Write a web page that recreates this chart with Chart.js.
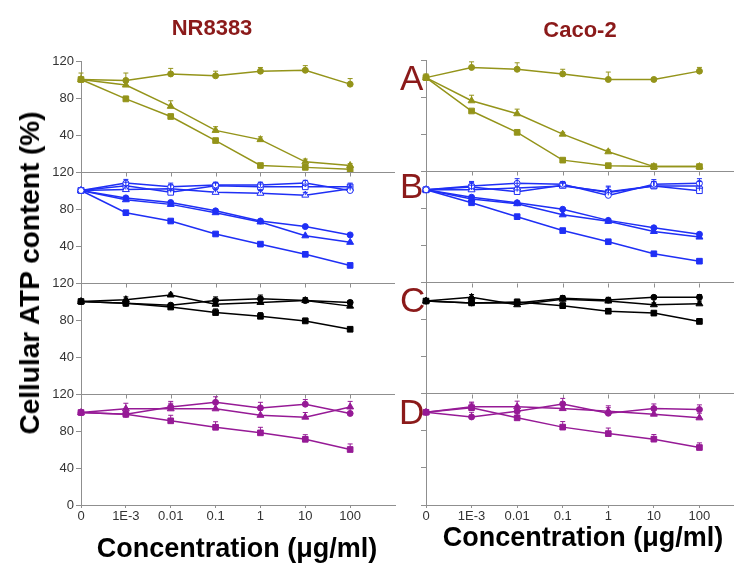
<!DOCTYPE html>
<html>
<head>
<meta charset="utf-8">
<script src="https://cdn.jsdelivr.net/npm/chart.js@4.4.0/dist/chart.umd.min.js"></script>
<style>
html, body { margin: 0; padding: 0; overflow: hidden; background: #fff; }
body { width: 734px; height: 564px; position: relative; font-family: "Liberation Sans", Arial, sans-serif; }
canvas { position: absolute; top: 0; }
#cL { left: 0; }
#cR { left: 400px; }
.t { position: absolute; font-weight: bold; white-space: nowrap; }
.ttl { color: #8b1a1a; font-size: 22px; line-height: 22px; transform: translateX(-50%); }
.lt { position: absolute; color: #8b1a1a; font-size: 35px; line-height: 35px; }
.xt { font-size: 27px; line-height: 27px; color: #000; transform: translateX(-50%); }
.yt { font-size: 28px; line-height: 28px; color: #000; transform: translate(-50%, -50%) rotate(-90deg); }
</style>
</head>
<body>
<canvas id="cL" width="400" height="564"></canvas>
<canvas id="cR" width="350" height="564"></canvas>

<div class="t ttl" style="left:212px; top:17px;">NR8383</div>
<div class="t ttl" style="left:580px; top:19px;">Caco-2</div>
<div class="lt" style="left:400px; top:60px;">A</div>
<div class="lt" style="left:400px; top:168px;">B</div>
<div class="lt" style="left:400px; top:282px;">C</div>
<div class="lt" style="left:399px; top:394px;">D</div>
<div class="t yt" style="left:30px; top:273px;">Cellular ATP content (%)</div>
<div class="t xt" style="left:237px; top:535px;">Concentration (μg/ml)</div>
<div class="t xt" style="left:583px; top:524px;">Concentration (μg/ml)</div>

<script>
// x categories and y ticks
const concLabels = ['0', '1E-3', '0.01', '0.1', '1', '10', '100'];
const yTickValues = [0, 40, 80, 120];

// NR8383 - panel A (olive)
const nrA_circ = [100, 99, 106, 104, 109, 110, 95];
const nrA_tri  = [100, 94, 71, 45, 35, 11, 7];
const nrA_sq   = [100, 79, 60, 34, 7, 5, 3];
const nrA_circErr = [7, 8, 6, 5, 4, 5, 6];
const nrA_triErr  = [0, 3, 6, 4, 3, 3, 2];
const nrA_sqErr   = [0, 3, 2, 2, 1, 1, 1];
// NR8383 - panel B (blue, open and filled)
const nrB_oCirc = [100, 108, 104, 106, 106, 108, 100];
const nrB_oTri  = [100, 101, 102, 98, 97, 95, 102];
const nrB_oSq   = [100, 105, 98, 105, 104, 104, 104];
const nrB_circ  = [100, 92, 87, 78, 67, 61, 52];
const nrB_tri   = [100, 90, 85, 76, 66, 51, 44];
const nrB_sq    = [100, 76, 67, 53, 42, 31, 19];
const nrB_openErr = [0, 4, 4, 3, 3, 3, 4];
// NR8383 - panel C (black)
const nrC_tri  = [100, 102, 107, 97, 99, 101, 95];
const nrC_circ = [100, 98, 96, 101, 103, 101, 99];
const nrC_sq   = [100, 98, 94, 88, 84, 79, 70];
const nrC_err  = [0, 3, 2, 4, 4, 3, 2];
// NR8383 - panel D (purple)
const nrD_circ = [100, 98, 106, 111, 105, 109, 99];
const nrD_tri  = [100, 104, 104, 104, 97, 95, 106];
const nrD_sq   = [100, 98, 91, 84, 78, 71, 60];
const nrD_err  = [0, 6, 6, 6, 6, 5, 6];

// Caco-2 - panel A
const caA_circ = [101, 112, 110, 105, 99, 99, 108];
const caA_tri  = [101, 76, 62, 40, 21, 5, 5];
const caA_sq   = [101, 65, 42, 12, 6, 5, 5];
const caA_circErr = [4, 6, 7, 5, 8, 0, 4];
const caA_triErr  = [0, 6, 5, 2, 2, 1, 1];
// Caco-2 - panel B
const caB_oCirc = [100, 104, 107, 106, 94, 106, 107];
const caB_oTri  = [100, 100, 102, 104, 98, 104, 104];
const caB_oSq   = [100, 103, 98, 105, 97, 104, 99];
const caB_circ  = [100, 92, 86, 79, 67, 59, 52];
const caB_tri   = [100, 90, 85, 73, 66, 55, 49];
const caB_sq    = [100, 86, 71, 56, 44, 31, 23];
const caB_openErr = [0, 5, 5, 3, 6, 5, 5];
// Caco-2 - panel C
const caC_tri  = [100, 104, 96, 102, 100, 96, 97];
const caC_circ = [100, 98, 98, 103, 101, 104, 104];
const caC_sq   = [100, 98, 99, 95, 89, 87, 78];
const caC_err  = [0, 3, 3, 3, 3, 2, 3];
// Caco-2 - panel D
const caD_circ = [100, 95, 101, 109, 99, 104, 103];
const caD_tri  = [100, 106, 106, 104, 101, 98, 94];
const caD_sq   = [100, 105, 94, 84, 77, 71, 62];
const caD_err  = [0, 5, 6, 6, 6, 5, 5];

const OLIVE = '#94941a';
const BLUE = '#1f2ff5';
const BLACK = '#000000';
const PURPLE = '#961a96';
const AXIS = '#8f8f8f';
const NONE = 'rgba(0,0,0,0)';

function series(data, err, color, style, open, axis) {
  const radius = style === 'rect' ? 4 : style === 'triangle' ? 4 : 3;
  return {
    data: data,
    err: err,
    yAxisID: axis,
    borderColor: color,
    backgroundColor: open ? '#ffffff' : color,
    pointBorderColor: color,
    pointBackgroundColor: open ? '#ffffff' : color,
    pointStyle: style,
    pointRadius: radius,
    pointBorderWidth: 1,
    borderWidth: 1.5,
    tension: 0,
    fill: false
  };
}

// Error bars (upward only) and small x ticks at panel boundaries
const extrasPlugin = {
  id: 'extras',
  afterDatasetsDraw(chart) {
    const ctx = chart.ctx;
    const x = chart.scales.x;
    ctx.save();
    ctx.strokeStyle = AXIS;
    ctx.lineWidth = 1;
    ['yA', 'yB', 'yC'].forEach(id => {
      const py = Math.round(chart.scales[id].getPixelForValue(0)) + 0.5;
      concLabels.forEach((l, i) => {
        const px = Math.round(x.getPixelForValue(i)) + 0.5;
        ctx.beginPath();
        ctx.moveTo(px, py);
        ctx.lineTo(px, py + 4);
        ctx.stroke();
      });
    });
    chart.data.datasets.forEach(ds => {
      if (!ds.err) return;
      const y = chart.scales[ds.yAxisID];
      ctx.strokeStyle = ds.borderColor;
      ds.data.forEach((v, i) => {
        const e = ds.err[i];
        if (!e) return;
        const px = x.getPixelForValue(i);
        const y0 = y.getPixelForValue(v);
        const y1 = y.getPixelForValue(v + e);
        ctx.beginPath();
        ctx.moveTo(px, y0);
        ctx.lineTo(px, y1);
        ctx.moveTo(px - 2.5, y1);
        ctx.lineTo(px + 2.5, y1);
        ctx.stroke();
      });
    });
    ctx.restore();
  }
};

function yAxis(width, showLabels, showZero) {
  return {
    type: 'linear',
    position: 'left',
    stack: 'col',
    stackWeight: 1,
    min: 0,
    max: 120,
    afterBuildTicks: s => { s.ticks = yTickValues.map(v => ({ value: v })); },
    afterFit: s => { s.width = width; },
    ticks: {
      display: showLabels,
      color: '#333',
      padding: 2,
      font: { family: '"Liberation Sans", Arial', size: 13 },
      callback: v => (v === 0 && !showZero) ? '' : String(v)
    },
    grid: {
      color: c => (c.tick && c.tick.value === 0) ? AXIS : NONE,
      tickColor: AXIS,
      tickLength: 5,
      lineWidth: 1
    },
    border: { color: AXIS, width: 1 }
  };
}

function xAxis() {
  return {
    type: 'category',
    labels: concLabels.concat(['']),
    offset: false,
    afterFit: s => { s.height = 30; },
    ticks: {
      color: '#333',
      padding: 1,
      autoSkip: false,
      maxRotation: 0,
      font: { family: '"Liberation Sans", Arial', size: 13 }
    },
    grid: {
      drawOnChartArea: false,
      color: c => c.index < concLabels.length ? AXIS : NONE,
      tickLength: 3
    },
    border: { color: AXIS, width: 1 }
  };
}

function makeChart(id, datasets, axisWidth, showLabels, padding) {
  return new Chart(document.getElementById(id), {
    type: 'line',
    data: { labels: concLabels, datasets: datasets },
    options: {
      responsive: false,
      animation: false,
      layout: { padding: padding },
      plugins: { legend: { display: false }, tooltip: { enabled: false } },
      scales: {
        x: xAxis(),
        // defined bottom-up: stacked left axes are placed in reverse order
        yD: yAxis(axisWidth, showLabels, true),
        yC: yAxis(axisWidth, showLabels, false),
        yB: yAxis(axisWidth, showLabels, false),
        yA: yAxis(axisWidth, showLabels, false)
      }
    },
    plugins: [extrasPlugin]
  });
}

makeChart('cL', [
  series(nrA_circ, nrA_circErr, OLIVE, 'circle', false, 'yA'),
  series(nrA_tri, nrA_triErr, OLIVE, 'triangle', false, 'yA'),
  series(nrA_sq, nrA_sqErr, OLIVE, 'rect', false, 'yA'),
  series(nrB_oCirc, nrB_openErr, BLUE, 'circle', true, 'yB'),
  series(nrB_oTri, nrB_openErr, BLUE, 'triangle', true, 'yB'),
  series(nrB_oSq, nrB_openErr, BLUE, 'rect', true, 'yB'),
  series(nrB_circ, null, BLUE, 'circle', false, 'yB'),
  series(nrB_tri, null, BLUE, 'triangle', false, 'yB'),
  series(nrB_sq, null, BLUE, 'rect', false, 'yB'),
  series(nrC_tri, nrC_err, BLACK, 'triangle', false, 'yC'),
  series(nrC_circ, nrC_err, BLACK, 'circle', false, 'yC'),
  series(nrC_sq, nrC_err, BLACK, 'rect', false, 'yC'),
  series(nrD_circ, nrD_err, PURPLE, 'circle', false, 'yD'),
  series(nrD_tri, nrD_err, PURPLE, 'triangle', false, 'yD'),
  series(nrD_sq, nrD_err, PURPLE, 'rect', false, 'yD')
], 81, true, { top: 61, bottom: 29, left: 0, right: 0 });

makeChart('cR', [
  series(caA_circ, caA_circErr, OLIVE, 'circle', false, 'yA'),
  series(caA_tri, caA_triErr, OLIVE, 'triangle', false, 'yA'),
  series(caA_sq, null, OLIVE, 'rect', false, 'yA'),
  series(caB_oCirc, caB_openErr, BLUE, 'circle', true, 'yB'),
  series(caB_oTri, caB_openErr, BLUE, 'triangle', true, 'yB'),
  series(caB_oSq, caB_openErr, BLUE, 'rect', true, 'yB'),
  series(caB_circ, null, BLUE, 'circle', false, 'yB'),
  series(caB_tri, null, BLUE, 'triangle', false, 'yB'),
  series(caB_sq, null, BLUE, 'rect', false, 'yB'),
  series(caC_tri, caC_err, BLACK, 'triangle', false, 'yC'),
  series(caC_circ, caC_err, BLACK, 'circle', false, 'yC'),
  series(caC_sq, caC_err, BLACK, 'rect', false, 'yC'),
  series(caD_circ, caD_err, PURPLE, 'circle', false, 'yD'),
  series(caD_tri, caD_err, PURPLE, 'triangle', false, 'yD'),
  series(caD_sq, caD_err, PURPLE, 'rect', false, 'yD')
], 26, false, { top: 60, bottom: 29, left: 0, right: 5 });
</script>
</body>
</html>
